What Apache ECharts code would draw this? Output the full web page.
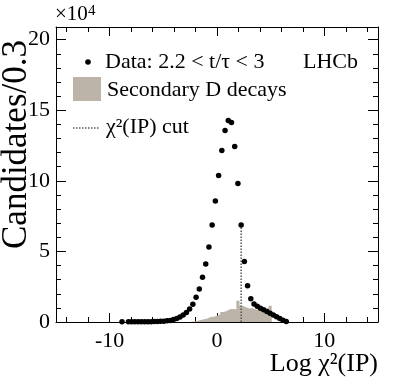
<!DOCTYPE html>
<html>
<head>
    <meta charset="utf-8">
    <title>Log chi2(IP)</title>
    <script src="https://cdn.jsdelivr.net/npm/echarts@6/dist/echarts.min.js"></script>
</head>
<body style="margin:0">
    <div id="main" style="width: 399px;height:384px;"></div>
    <script type="text/javascript">
        // bin centres (width 0.3) and counts in units of 10^4
        var dataX = [-8.85, -8.25, -7.95, -7.65, -7.35, -7.05, -6.75, -6.45, -6.15, -5.85,
            -5.55, -5.25, -4.95, -4.65, -4.35, -4.05, -3.75, -3.45, -3.15, -2.85,
            -2.55, -2.25, -1.95, -1.65, -1.35, -1.05, -0.75, -0.45, -0.15, 0.15,
            0.45, 0.75, 1.05, 1.35, 1.65, 1.95, 2.25, 2.55, 2.85, 3.15,
            3.45, 3.75, 4.05, 4.35, 4.65, 4.95, 5.25, 5.55, 5.85, 6.15, 6.45];
        var dataY = [0.01, 0.01, 0.01, 0.01, 0.01, 0.012, 0.015, 0.02, 0.025, 0.03,
            0.04, 0.05, 0.06, 0.08, 0.11, 0.17, 0.25, 0.36, 0.50, 0.68,
            0.92, 1.26, 1.75, 2.34, 3.17, 4.11, 5.32, 6.88, 8.58, 10.38,
            12.15, 13.57, 14.28, 14.13, 12.43, 9.81, 6.88, 4.28, 2.57, 1.65,
            1.28, 1.12, 0.98, 0.86, 0.74, 0.62, 0.50, 0.37, 0.24, 0.12, 0.04];

        // secondary D decays histogram
        var secX = [-2.25, -1.95, -1.65, -1.35, -1.05, -0.75, -0.45, -0.15, 0.15, 0.45,
            0.75, 1.05, 1.35, 1.65, 1.95, 2.25, 2.55, 2.85, 3.15, 3.45,
            3.75, 4.05, 4.35, 4.65, 4.95];
        var secY = [0.04, 0.08, 0.15, 0.2, 0.25, 0.35, 0.38, 0.45, 0.55, 0.7,
            0.78, 0.9, 0.92, 0.9, 1.5, 1.15, 1.05, 0.95, 1.0, 0.9,
            0.85, 0.95, 0.9, 1.0, 1.15];
        var binW = 0.3;

        var cutX = 2.25;
        var cutTop = 6.88;

        var xMajor = [-10, 0, 10];
        var xMinor = [-14, -12, -8, -6, -4, -2, 2, 4, 6, 8, 12, 14];
        var yMajor = [0, 5, 10, 15, 20];
        var yMinor = [1, 2, 3, 4, 6, 7, 8, 9, 11, 12, 13, 14, 16, 17, 18, 19];

        var font = "'Liberation Serif', 'DejaVu Serif', serif";

        var myChart = echarts.init(document.getElementById('main'));

        var points = dataX.map(function (x, i) { return [x, dataY[i]]; });
        var steps = secX.map(function (x, i) { return [x - binW / 2, secY[i]]; });
        steps.push([secX[secX.length - 1] + binW / 2, secY[secY.length - 1]]);
        steps.push([secX[secX.length - 1] + binW / 2, 0]);

        function xAx(pos, ticks, len, showLine, labels) {
            return {
                type: 'value', position: pos, min: -15, max: 15,
                axisLine: { show: showLine, onZero: false, lineStyle: { color: '#000', width: 1 } },
                axisTick: { show: true, inside: true, length: len, customValues: ticks,
                    lineStyle: { color: '#000', width: 1 } },
                axisLabel: labels ? { show: true, customValues: xMajor, fontSize: 22, fontFamily: font,
                    color: '#000', margin: 8, formatter: function (v) { return v < 0 ? '-' + (-v) : '' + v; } }
                    : { show: false },
                splitLine: { show: false }
            };
        }
        function yAx(pos, ticks, len, showLine, labels) {
            return {
                type: 'value', position: pos, min: 0, max: 20.9,
                axisLine: { show: showLine, onZero: false, lineStyle: { color: '#000', width: 1 } },
                axisTick: { show: true, inside: true, length: len, customValues: ticks,
                    lineStyle: { color: '#000', width: 1 } },
                axisLabel: labels ? { show: true, customValues: yMajor, fontSize: 22, fontFamily: font,
                    color: '#000', margin: 6 } : { show: false },
                splitLine: { show: false }
            };
        }

        var option = {
            animation: false,
            backgroundColor: '#fff',
            grid: { left: 56, top: 27, right: 21, bottom: 62 },
            xAxis: [
                xAx('bottom', xMajor, 9, true, true),
                xAx('bottom', xMinor, 5, false, false),
                xAx('top', xMajor, 9, true, false),
                xAx('top', xMinor, 5, false, false)
            ],
            yAxis: [
                yAx('left', yMajor, 10, true, true),
                yAx('left', yMinor, 5, false, false),
                yAx('right', yMajor, 10, true, false),
                yAx('right', yMinor, 5, false, false)
            ],
            series: [
                {
                    type: 'line', step: 'end', data: steps, symbol: 'none',
                    lineStyle: { width: 0 },
                    areaStyle: { color: '#bdb4a9', opacity: 1 },
                    z: 1
                },
                {
                    type: 'line', data: [[cutX, 0], [cutX, cutTop]], symbol: 'none',
                    lineStyle: { color: '#555', width: 1.5, type: [1.5, 1.5] },
                    z: 2
                },
                {
                    type: 'scatter', data: points, symbol: 'circle', symbolSize: 5.5,
                    itemStyle: { color: '#000', opacity: 1 },
                    z: 3
                }
            ],
            graphic: [
                { type: 'text', x: 55, y: 25, style: { text: '×10', fill: '#000', fontSize: 21,
                    fontFamily: font, verticalAlign: 'bottom' } },
                { type: 'text', x: 88, y: 19, style: { text: '4', fill: '#000', fontSize: 15,
                    fontFamily: font, verticalAlign: 'bottom' } },
                { type: 'text', x: 17, y: 40, rotation: Math.PI / 2,
                    style: { text: 'Candidates/0.3', fill: '#000', fontSize: 35, fontFamily: font,
                        align: 'right', verticalAlign: 'middle' } },
                { type: 'text', x: 378, y: 364,
                    style: { text: 'Log χ²(IP)', fill: '#000', fontSize: 26, fontFamily: font,
                        align: 'right', verticalAlign: 'middle' } },
                { type: 'circle', shape: { cx: 88, cy: 62, r: 2.8 }, style: { fill: '#000' } },
                { type: 'text', x: 105, y: 62,
                    style: { text: 'Data: 2.2 < t/τ < 3', fill: '#000', fontSize: 22, fontFamily: font, verticalAlign: 'middle' } },
                { type: 'rect', shape: { x: 73, y: 77, width: 28, height: 24 }, style: { fill: '#bdb4a9' } },
                { type: 'text', x: 107, y: 90,
                    style: { text: 'Secondary D decays', fill: '#000', fontSize: 22, fontFamily: font, verticalAlign: 'middle' } },
                { type: 'line', shape: { x1: 73, y1: 128, x2: 100, y2: 128 },
                    style: { stroke: '#555', lineWidth: 1.5, lineDash: [1.5, 1.5] } },
                { type: 'text', x: 106, y: 127,
                    style: { text: 'χ²(IP) cut', fill: '#000', fontSize: 22, fontFamily: font, verticalAlign: 'middle' } },
                { type: 'text', x: 358, y: 62,
                    style: { text: 'LHCb', fill: '#000', fontSize: 22, fontFamily: font, align: 'right', verticalAlign: 'middle' } }
            ]
        };

        myChart.setOption(option);
    </script>
</body>
</html>
